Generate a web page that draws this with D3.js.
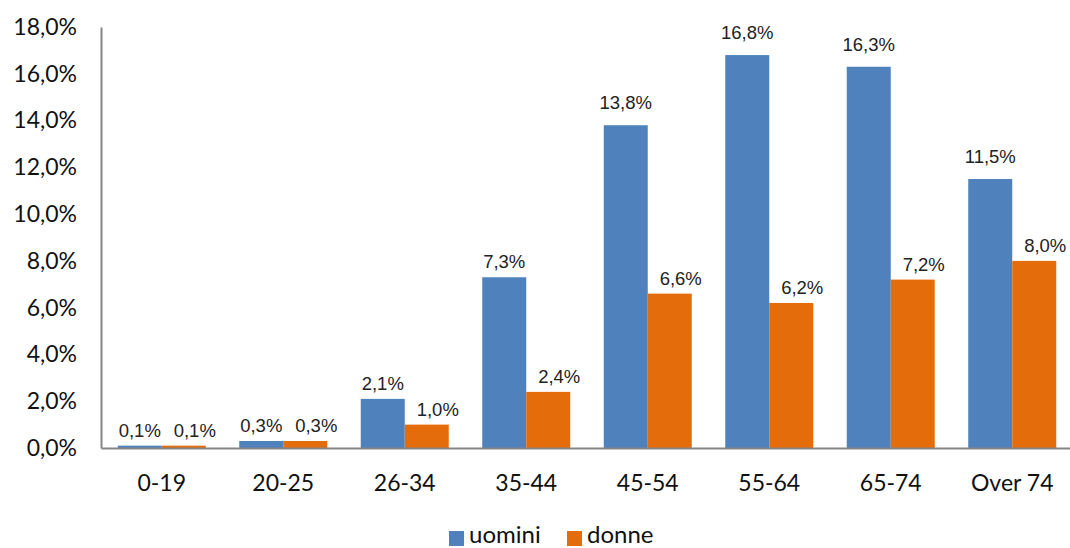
<!DOCTYPE html>
<html>
<head>
<meta charset="utf-8">
<script src="https://cdn.jsdelivr.net/npm/d3@7"></script>
<style>
  html, body { margin: 0; padding: 0; background: #fff; }
  svg { display: block; font-family: Lato, "Open Sans", sans-serif; }
</style>
</head>
<body>
<svg id="chart" width="1070" height="548"></svg>
<script>
// Age bands and share of each group (percent)
const categories = ["0-19", "20-25", "26-34", "35-44", "45-54", "55-64", "65-74", "Over 74"];
const uomini = [0.1, 0.3, 2.1, 7.3, 13.8, 16.8, 16.3, 11.5];
const donne  = [0.1, 0.3, 1.0, 2.4, 6.6, 6.2, 7.2, 8.0];
const seriesNames = ["uomini", "donne"];
const yTicks = [0, 2, 4, 6, 8, 10, 12, 14, 16, 18];

const colors = { uomini: "#4F81BD", donne: "#E46C0A" };
const labelShift = { uomini: 0, donne: 11 };
const axisColor = "#868686";
const textColor = "#111";
const axisFont = "Lato, 'Open Sans', sans-serif";

const svg = d3.select("#chart");
const plot = { left: 101, right: 1073, top: 27, bottom: 448 };

const x = d3.scaleBand().domain(categories).range([plot.left, plot.right]).paddingInner(0.2757).paddingOuter(0.1379);
const xs = d3.scaleBand().domain(seriesNames).range([0, x.bandwidth()]);
const y = d3.scaleLinear().domain([0, 18]).range([plot.bottom, plot.top]);

const fmt = v => d3.format(".1f")(v).replace(".", ",") + "%";

// Bars
const data = categories.map((c, i) => ({ c, values: [
  { s: "uomini", v: uomini[i] }, { s: "donne", v: donne[i] }
]}));

const groups = svg.append("g").selectAll("g").data(data).join("g")
  .attr("transform", d => `translate(${x(d.c)},0)`);

groups.selectAll("rect").data(d => d.values).join("rect")
  .attr("x", d => xs(d.s))
  .attr("width", xs.bandwidth())
  .attr("y", d => y(d.v))
  .attr("height", d => y(0) - y(d.v))
  .attr("fill", d => colors[d.s]);

// Value labels above each bar (taller bars get a little more headroom)
groups.selectAll("text").data(d => d.values).join("text")
  .attr("x", d => xs(d.s) + xs.bandwidth() / 2 + labelShift[d.s])
  .attr("y", d => y(d.v) - (d.v > 10 ? 16 : 9))
  .attr("text-anchor", "middle")
  .attr("font-family", "'Liberation Sans', Arial, sans-serif")
  .attr("font-size", 18.5)
  .attr("fill", "#222")
  .text(d => fmt(d.v));

// Y axis
const yAxis = d3.axisLeft(y).tickValues(yTicks).tickSize(0).tickPadding(24).tickFormat(fmt);
const gy = svg.append("g").attr("transform", `translate(${plot.left},0)`).call(yAxis);
gy.select(".domain").attr("stroke", axisColor).attr("stroke-width", 2);
gy.selectAll("text").attr("font-size", 23).attr("fill", textColor).attr("font-family", axisFont);

// X axis
const xAxis = d3.axisBottom(x).tickSize(0).tickPadding(27);
const gx = svg.append("g").attr("transform", `translate(0,${plot.bottom})`).call(xAxis);
gx.select(".domain").attr("stroke", axisColor).attr("stroke-width", 2);
gx.selectAll("text").attr("font-size", 23).attr("fill", textColor).attr("font-family", axisFont);

// Legend
const legend = svg.append("g");
const legendPos = [{ s: "uomini", x: 449 }, { s: "donne", x: 567 }];
legendPos.forEach(p => {
  legend.append("rect").attr("x", p.x).attr("y", 531).attr("width", 15).attr("height", 15).attr("fill", colors[p.s]);
  legend.append("text").attr("x", p.x + 20).attr("y", 543).attr("font-size", 24).attr("fill", textColor).text(p.s);
});
</script>
</body>
</html>
